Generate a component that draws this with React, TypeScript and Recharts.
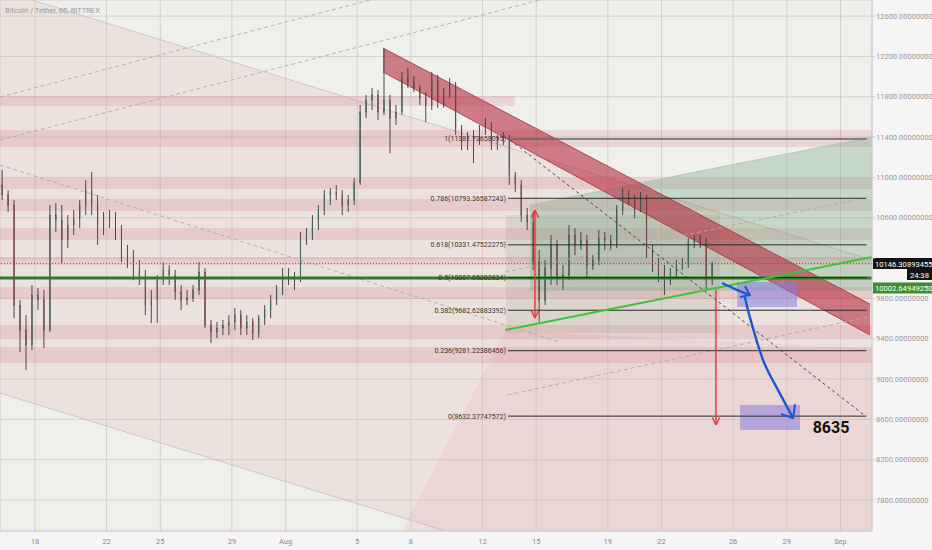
import React from 'react';
import {
  ComposedChart, Bar, Line, Area, XAxis, YAxis, CartesianGrid,
  ReferenceLine, ReferenceArea, ReferenceDot,
} from 'recharts';

// ---- candles: 8h bars, time in days from Jul 18 00:00 ----
const candleStart = -2;
const candleStep = 1 / 3;
const openP = [
  10925,10826,10726,9734,9486,9338,9834,9784,9486,10627,
  10578,10379,10528,10597,10726,10875,10726,10528,10627,10578,
  10429,10230,10181,10082,10002,9734,9784,9982,10082,10032,
  9863,9784,9804,9883,10062,9536,9467,9506,9536,9566,
  9635,9506,9566,9457,9605,9685,9784,9883,10032,9982,
  10002,10379,10429,10578,10677,10826,10855,10826,10726,10776,
  10955,11649,11768,11818,11649,11768,11589,11649,11986,11947,
  11887,11788,11718,11966,11748,11847,11917,11490,11341,11391,
  11371,11470,11490,11322,11371,11391,11024,10925,10627,10558,
  10161,9784,10101,10330,10002,10032,10429,10330,10379,10131,
  10181,10399,10379,10330,10677,10776,10796,10677,10796,10260,
  10131,10062,9982,10062,10131,10141,10359,10379,10349,9982,
];
const highP = [
  11074,10875,10776,9784,9635,9933,9903,9883,10726,10746,
  10726,10627,10677,10776,10974,11054,10826,10657,10677,10657,
  10528,10330,10280,10181,10082,9883,10032,10161,10131,10082,
  9933,9883,9933,10161,10101,9586,9566,9586,9635,9705,
  9685,9635,9605,9635,9734,9834,9933,10101,10101,10062,
  10459,10498,10627,10726,10875,10895,10925,10875,10826,10994,
  11718,11818,11887,11867,12284,11818,11718,12046,12085,12006,
  11917,11847,12046,12016,11887,11986,11947,11520,11451,11470,
  11520,11589,11550,11421,11451,11421,11054,10974,10697,10657,
  10280,10181,10429,10379,10131,10528,10498,10459,10429,10230,
  10478,10459,10429,10726,10895,10875,10826,10855,10826,10330,
  10201,10131,10101,10181,10201,10399,10429,10429,10399,10161,
];
const lowP = [
  10776,10657,9605,9268,9090,9288,9685,9308,9467,10459,
  10151,10300,10429,10498,10627,10627,10330,10429,10498,10379,
  10161,10101,9982,9933,9635,9556,9556,9933,9933,9784,
  9685,9734,9764,9834,9506,9357,9407,9437,9437,9486,
  9437,9437,9387,9407,9536,9605,9734,9834,9933,9883,
  9963,10330,10379,10478,10627,10726,10776,10627,10657,10726,
  10925,11589,11669,11570,11619,11242,11520,11619,11887,11847,
  11718,11550,11669,11689,11689,11788,11421,11272,11272,11143,
  11322,11421,11272,11272,11322,10925,10855,10558,10478,10082,
  9566,9734,9933,9933,9883,9982,10230,10280,10002,10082,
  10131,10280,10280,10300,10627,10726,10597,10657,10201,10062,
  9963,9834,9933,10002,10082,10101,10300,10300,9883,9933,
];
const closeP = [
  10826,10726,9734,9486,9338,9834,9784,9486,10627,10578,
  10379,10528,10597,10726,10875,10726,10528,10627,10578,10429,
  10230,10181,10082,10002,9734,9784,9982,10082,10032,9863,
  9784,9804,9883,10062,9536,9467,9506,9536,9566,9635,
  9506,9566,9457,9605,9685,9784,9883,10032,9982,10002,
  10379,10429,10578,10677,10826,10855,10826,10726,10776,10955,
  11649,11768,11818,11649,11768,11589,11649,11986,11947,11887,
  11788,11718,11966,11748,11847,11917,11490,11341,11391,11371,
  11470,11490,11322,11371,11391,11024,10925,10627,10558,10161,
  9784,10101,10330,10002,10032,10429,10330,10379,10131,10181,
  10399,10379,10330,10677,10776,10796,10677,10796,10260,10131,
  10062,9982,10062,10131,10141,10359,10379,10349,9982,10146,
];
const candles = closeP.map((c, i) => ({
  t: candleStart + (i + 0.5) * candleStep,
  open: openP[i], high: highP[i], low: lowP[i], close: c,
}));

// ---- axes ----
const xDomain = [-1.955, 46.76];
const yDomain = [7493, 12760];
const dateTicks = [0, 4, 7, 11, 14, 18, 21, 25, 28, 32, 35, 39, 42, 45];
const dateLabels = ['18', '22', '25', '29', 'Aug', '5', '8', '12', '15', '19', '22', '26', '29', 'Sep'];
const priceTicks = [7800, 8200, 8600, 9000, 9400, 9800, 10200, 10600, 11000, 11400, 11800, 12200, 12600];
const hiddenPriceLabels = [10200];

// ---- fibonacci retracement ----
const fibRatios = ['1', '0.786', '0.618', '0.5', '0.382', '0.236', '0'];
const fibPrices = [11381.72658095, 10793.36587243, 10331.47522275, 10007.05202834, 9682.62883392, 9281.22386456, 8632.37747572];
const fibStart = 26.42;
const fibEnd = 46.45;

// ---- horizontal pink zones ----
const zoneLow = [11708, 11302, 10885, 10667, 10379, 10131, 9794, 9407, 9159];
const zoneHigh = [11808, 11470, 10994, 10786, 10498, 10211, 9913, 9536, 9318];
const zoneEnd = [26.8, 46.76, 46.76, 46.76, 46.76, 46.76, 46.76, 46.76, 46.76];

// ---- drawn shapes ----
const bigChannel = [
  { t: -1.955, r: [8861, 12859] },
  { t: 46.76, r: [6183, 10181] },
];
const lowerPink = [
  { t: 20.5, r: [7493, 7493] },
  { t: 26.3, r: [7493, 9480] },
  { t: 46.76, r: [7493, 9300] },
];
const greenWedge = [
  { t: 27.65, r: [9883, 10726] },
  { t: 46.76, r: [9883, 11401] },
];
const redChannel = [
  { t: 19.44, r: [12046, 12284] },
  { t: 46.65, r: [9437, 9744] },
];
const supportLine = [
  { t: 26.26, p: 9486 },
  { t: 46.76, p: 10210 },
];
const blueArrow1 = [
  { t: 38.38, p: 9953 }, { t: 39.11, p: 9893 }, { t: 39.94, p: 9834 },
];
const blueHead1 = [
  { t: 39.66, p: 9923 }, { t: 39.94, p: 9834 }, { t: 39.39, p: 9814 },
];
const blueArrow2 = [
  { t: 39.66, p: 9814 }, { t: 39.83, p: 9685 }, { t: 40.06, p: 9536 },
  { t: 40.34, p: 9367 }, { t: 40.67, p: 9189 }, { t: 41.06, p: 9040 },
  { t: 41.51, p: 8891 }, { t: 41.9, p: 8762 }, { t: 42.35, p: 8613 },
];
const blueHead2 = [
  { t: 41.68, p: 8653 }, { t: 42.35, p: 8613 }, { t: 42.46, p: 8752 },
];
const targetBoxes = [
  { t1: 39.22, t2: 42.57, p1: 9715, p2: 9963 },
  { t1: 39.39, t2: 42.74, p1: 8494, p2: 8742 },
];
const dashedGrey = [
  [{ x: -1.955, y: 11798 }, { x: 18.71, y: 12760 }],
  [{ x: -1.955, y: 11371 }, { x: 28.2, y: 12760 }],
  [{ x: -1.955, y: 11123 }, { x: 29.3, y: 9367 }],
  [{ x: 26.26, y: 10062 }, { x: 46.65, y: 10806 }],
  [{ x: 26.4, y: 8842 }, { x: 46.65, y: 9620 }],
];
const dashedBlack = [{ x: 26.54, y: 11371 }, { x: 46.4, y: 8633 }];
const redArrows = [
  { t: 27.93, from: 10677, to: 9605, both: true },
  { t: 38.04, from: 9883, to: 8544, both: false },
];
const lastPrice = 10146.30893455;
const hLinePrice = 10002.6494925;
const countdown = '24:38';
const targetText = '8635';

const Candle = (props: any) => {
  const { x, y, width, height, payload } = props;
  if (x == null || y == null) return null;
  const top = Math.min(y, y + height);
  const h = Math.abs(height);
  const range = payload.high - payload.low || 1;
  const k = h / range;
  const yO = top + (payload.high - payload.open) * k;
  const yC = top + (payload.high - payload.close) * k;
  const up = payload.close >= payload.open;
  const cx = x + width / 2;
  return (
    <g>
      <line x1={cx} x2={cx} y1={top} y2={top + h} stroke="#3a3a3a" strokeWidth={0.9} />
      <rect x={x} y={Math.min(yO, yC)} width={width} height={Math.max(0.8, Math.abs(yO - yC))}
        fill={up ? '#2f9a72' : '#cf4458'} stroke="#3a3a3a" strokeWidth={0.35} />
    </g>
  );
};

const PriceTag = (props: any) => {
  const { viewBox } = props;
  if (!viewBox) return null;
  const right = viewBox.x + viewBox.width;
  const y = viewBox.y;
  return (
    <g>
      <rect x={right + 1} y={y - 5.5} width={59} height={11} fill="#131313" />
      <text x={right + 3} y={y + 3} fontSize={7.6} fill="#ffffff">{lastPrice.toFixed(8)}</text>
      <rect x={right + 35} y={y + 5.5} width={25} height={11} fill="#131313" />
      <text x={right + 38} y={y + 14} fontSize={7.6} fill="#ffffff">{countdown}</text>
    </g>
  );
};

const GreenTag = (props: any) => {
  const { viewBox } = props;
  if (!viewBox) return null;
  const right = viewBox.x + viewBox.width;
  const y = viewBox.y + 10;
  return (
    <g>
      <rect x={right + 1} y={y - 5.5} width={59} height={11} fill="#3e8e2e" />
      <text x={right + 3} y={y + 3} fontSize={7.6} fill="#ffffff">{hLinePrice.toFixed(8)}</text>
    </g>
  );
};

export default function App() {
  return (
    <div style={{ position: 'absolute', left: 0, top: 0, width: 932, height: 550, background: '#f6f4f5', fontFamily: 'Roboto, sans-serif' }}>
      <ComposedChart width={932} height={550} data={candles} margin={{ top: 0, right: 0, bottom: 0, left: 0 }}>
        <CartesianGrid stroke="#cdc9c7" strokeWidth={0.8} fill="#efefeb" fillOpacity={1} />
        <XAxis dataKey="t" type="number" domain={xDomain} allowDataOverflow ticks={dateTicks} interval={0}
          tickFormatter={(v: number) => dateLabels[dateTicks.indexOf(v)] ?? ''}
          height={19} axisLine={{ stroke: '#cfcfcf' }} tickLine={false} tick={{ fontSize: 7.5, fill: '#8a8a8a' }} />
        <YAxis orientation="right" type="number" domain={yDomain} allowDataOverflow ticks={priceTicks} interval={0}
          width={60} tickFormatter={(v: number) => (hiddenPriceLabels.includes(v) ? '' : v.toFixed(8))} axisLine={{ stroke: '#cfcfcf' }}
          tickLine={{ stroke: '#cfcfcf' }} tickSize={3} tickMargin={1} tick={{ fontSize: 7.5, fill: '#9a9a9a' }} />

        <Area data={bigChannel} dataKey="r" type="linear" fill="#e0b4ae" fillOpacity={0.22} stroke="#cdbdb8" strokeWidth={0.8} isAnimationActive={false} />
        <Area data={lowerPink} dataKey="r" type="linear" fill="#e79cab" fillOpacity={0.16} stroke="none" isAnimationActive={false} />

        {zoneLow.map((lo, i) => (
          <ReferenceArea key={'z' + i} x1={xDomain[0]} x2={zoneEnd[i]} y1={lo} y2={zoneHigh[i]}
            fill="#cf5a78" fillOpacity={0.17} stroke="none" ifOverflow="hidden" />
        ))}

        <Area data={greenWedge} dataKey="r" type="linear" fill="#6fa67c" fillOpacity={0.32} stroke="#a9c2ad" strokeWidth={0.8} isAnimationActive={false} />
        <ReferenceArea x1={26.31} x2={38.27} y1={9457} y2={10627} fill="#8f8f80" fillOpacity={0.17} stroke="none" ifOverflow="hidden" />

        {dashedGrey.map((seg, i) => (
          <ReferenceLine key={'dg' + i} segment={seg} stroke="#b3aaa6" strokeWidth={0.9} strokeDasharray="4 3" ifOverflow="hidden" />
        ))}

        <ReferenceLine y={hLinePrice} stroke="#2f7a2a" strokeWidth={3} label={GreenTag} />
        <ReferenceLine y={lastPrice} stroke="#555" strokeWidth={0.8} strokeDasharray="1 2" label={PriceTag} />

        <Bar dataKey={(d: any) => [d.low, d.high]} shape={Candle} barSize={4.4} isAnimationActive={false} />

        <Area data={redChannel} dataKey="r" type="linear" fill="#b52a3c" fillOpacity={0.58} stroke="#a8303e" strokeWidth={0.8} isAnimationActive={false} />

        {fibPrices.map((p, i) => (
          <ReferenceLine key={'f' + i} segment={[{ x: fibStart, y: p }, { x: fibEnd, y: p }]}
            stroke={i === 0 ? '#666' : '#2b2b2b'} strokeWidth={i === 0 ? 1.4 : 1}
            label={{ value: `${fibRatios[i]}(${p.toFixed(8)})`, position: 'left', offset: 2, fontSize: 7, fill: '#333' }} />
        ))}
        <ReferenceLine segment={dashedBlack} stroke="#333" strokeWidth={0.9} strokeDasharray="3 3" ifOverflow="hidden" />

        <Line data={supportLine} dataKey="p" type="linear" stroke="#3cc43c" strokeWidth={2} dot={false} isAnimationActive={false} />

        {redArrows.map((a, i) => (
          <React.Fragment key={'ra' + i}>
            <ReferenceLine segment={[{ x: a.t, y: a.from }, { x: a.t, y: a.to }]} stroke="#e8323c" strokeWidth={1.4} />
            <ReferenceLine segment={[{ x: a.t - 0.2, y: a.to + 75 }, { x: a.t, y: a.to }]} stroke="#e8323c" strokeWidth={1.4} />
            <ReferenceLine segment={[{ x: a.t + 0.2, y: a.to + 75 }, { x: a.t, y: a.to }]} stroke="#e8323c" strokeWidth={1.4} />
            {a.both && <ReferenceLine segment={[{ x: a.t - 0.2, y: a.from - 75 }, { x: a.t, y: a.from }]} stroke="#e8323c" strokeWidth={1.4} />}
            {a.both && <ReferenceLine segment={[{ x: a.t + 0.2, y: a.from - 75 }, { x: a.t, y: a.from }]} stroke="#e8323c" strokeWidth={1.4} />}
          </React.Fragment>
        ))}

        {targetBoxes.map((b, i) => (
          <ReferenceArea key={'tb' + i} x1={b.t1} x2={b.t2} y1={b.p1} y2={b.p2} fill="#8a7de0" fillOpacity={0.55} stroke="none" />
        ))}

        <Line data={blueArrow1} dataKey="p" type="monotone" stroke="#1f55d6" strokeWidth={2.4} dot={false} isAnimationActive={false} />
        <Line data={blueHead1} dataKey="p" type="linear" stroke="#1f55d6" strokeWidth={2} dot={false} isAnimationActive={false} />
        <Line data={blueArrow2} dataKey="p" type="monotone" stroke="#1f55d6" strokeWidth={2.4} dot={false} isAnimationActive={false} />
        <Line data={blueHead2} dataKey="p" type="linear" stroke="#1f55d6" strokeWidth={2} dot={false} isAnimationActive={false} />

        <ReferenceDot x={44.47} y={8524} r={0} fill="none" stroke="none"
          label={{ value: targetText, position: 'center', fontSize: 16, fontWeight: 700, fill: '#111' }} />
      </ComposedChart>
      <div style={{ position: 'absolute', left: 5, top: 6, fontSize: 7.5, color: '#9a9a9a', whiteSpace: 'nowrap' }}>
        Bitcoin / Tether, 60, BITTREX
      </div>
    </div>
  );
}
